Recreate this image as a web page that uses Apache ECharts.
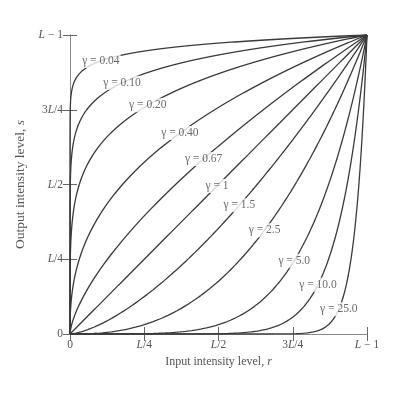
<!DOCTYPE html>
<html><head><meta charset="utf-8">
<script src="https://cdn.jsdelivr.net/npm/echarts@6/dist/echarts.min.js"></script>
<style>html,body{margin:0;padding:0;background:#fff}#c{width:400px;height:397px}</style>
</head><body><div id="c"></div>
<script>
// Power-law (gamma) transformation curves s = c * r^gamma, with c = 1, L-1 normalised to 1
var gammas = [0.04, 0.10, 0.20, 0.40, 0.67, 1, 1.5, 2.5, 5.0, 10.0, 25.0];
var gammaLabels = ['0.04', '0.10', '0.20', '0.40', '0.67', '1', '1.5', '2.5', '5.0', '10.0', '25.0'];
// input level r at which each curve's label sits
var labelR = [0.104, 0.175, 0.262, 0.37, 0.45, 0.495, 0.57, 0.655, 0.755, 0.835, 0.905];
var tickValues = [0, 0.25, 0.5, 0.75, 1];
var tickLabels = ['0', '{i|L}/4', '{i|L}/2', '3{i|L}/4', '{i|L} − 1'];
var xTitle = 'Input intensity level, {i|r}';
var yTitle = 'Output intensity level, {i|s}';

var FONT = 'Liberation Serif';
var TXT = '#555';
var rich = {i: {fontStyle: 'italic', fontFamily: FONT, fontSize: 11.5, color: TXT}};
var richX = {i: {fontStyle: 'italic', fontFamily: FONT, fontSize: 12, color: TXT}};
var richY = {i: {fontStyle: 'italic', fontFamily: FONT, fontSize: 13.5, color: TXT}};

function curve(g) {
  var pts = [], n = 300, k, t;
  for (k = 0; k <= n; k++) {
    t = k / n;
    if (g < 1) pts.push([Math.pow(t, 1 / g), t]);
    else pts.push([t, Math.pow(t, g)]);
  }
  return pts;
}
function tickFmt(v) {
  var i = tickValues.indexOf(Math.round(v * 100) / 100);
  return i >= 0 ? tickLabels[i] : '';
}

var series = gammas.map(function (g) {
  return {type: 'line', data: curve(g), showSymbol: false, silent: true,
    lineStyle: {color: '#3a3a3a', width: 1.3}, z: 2, animation: false};
});
series.push({
  type: 'scatter', symbolSize: 0, z: 5, animation: false, silent: true,
  data: gammas.map(function (g, i) { return [labelR[i], Math.pow(labelR[i], g), gammaLabels[i]]; }),
  label: {show: true, position: 'inside', formatter: function (p) { return 'γ = ' + p.data[2]; },
    fontFamily: FONT, fontSize: 11.5, color: '#444', backgroundColor: '#fff', padding: [1, 1]}
});

var axisCommon = {
  type: 'value', min: 0, max: 1, interval: 0.25,
  axisLine: {show: true, lineStyle: {color: '#888', width: 1}},
  axisTick: {show: true, inside: true, length: 7, lineStyle: {color: '#666'}},
  splitLine: {show: false}
};

var chart = echarts.init(document.getElementById('c'), null, {renderer: 'canvas'});
chart.setOption({
  backgroundColor: '#fff',
  animation: false,
  grid: {left: 70, right: 33, top: 35, bottom: 63},
  xAxis: [
    Object.assign({}, axisCommon, {position: 'bottom',
      name: xTitle, nameLocation: 'middle', nameGap: 22,
      nameTextStyle: {fontFamily: FONT, fontSize: 12, color: TXT, rich: richX},
      axisLabel: {formatter: tickFmt, fontFamily: FONT, fontSize: 11.5, color: TXT, margin: 5, rich: rich}}),
    Object.assign({}, axisCommon, {position: 'top', axisLabel: {show: false}})
  ],
  yAxis: [
    Object.assign({}, axisCommon, {position: 'left',
      name: yTitle, nameLocation: 'middle', nameGap: 41, nameRotate: 90,
      nameTextStyle: {fontFamily: FONT, fontSize: 13.5, color: TXT, rich: richY},
      axisLabel: {formatter: tickFmt, fontFamily: FONT, fontSize: 11.5, color: TXT, margin: 7, rich: rich}}),
    Object.assign({}, axisCommon, {position: 'right', axisLabel: {show: false}})
  ],
  series: series
});
</script></body></html>
